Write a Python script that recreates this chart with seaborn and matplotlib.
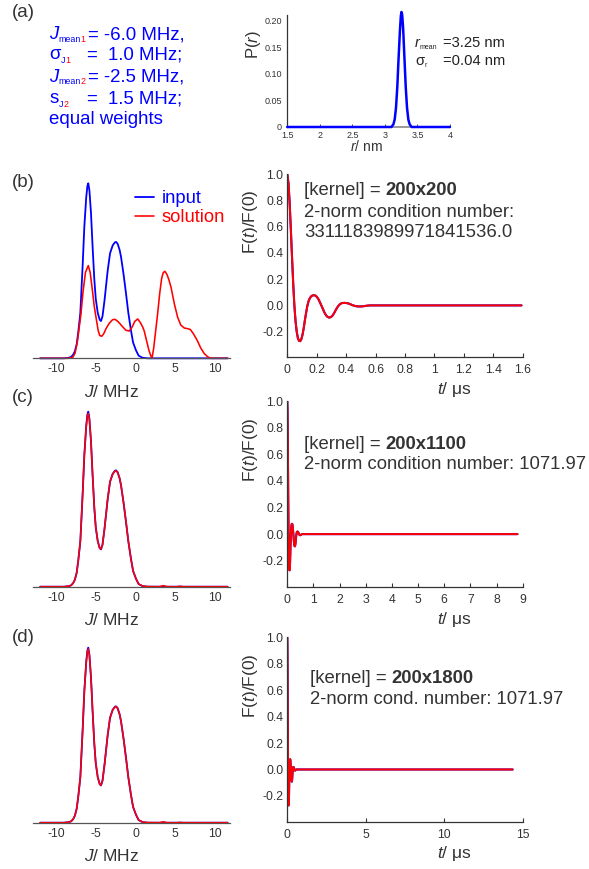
import matplotlib
matplotlib.use("Agg")
import matplotlib.pyplot as plt
import seaborn as sns
import pandas as pd
from matplotlib.ticker import FixedLocator, FuncFormatter

# ---------------- data ----------------
# (a) distance distribution P(r)
R_NM = [1.50, 3.10, 3.13, 3.15, 3.17, 3.19, 3.21, 3.23, 3.245, 3.255, 3.265,
        3.28, 3.30, 3.32, 3.34, 3.36, 3.38, 3.41, 4.00]
P_R = [0, 0, 0.005, 0.014, 0.036, 0.075, 0.13, 0.18, 0.21, 0.217, 0.212,
       0.186, 0.13, 0.075, 0.036, 0.014, 0.005, 0, 0]

# coupling distributions (normalised to the input maximum)
J_GRID = [-12.0, -9.0, -8.4, -8.1, -7.85, -7.63, -7.4, -7.2, -6.94, -6.64,
          -6.44, -6.2, -6.05, -5.94, -5.8, -5.6, -5.4, -5.18, -5.0, -4.75,
          -4.5, -4.34, -4.15, -3.9, -3.5, -3.2, -2.87, -2.6, -2.45, -2.25,
          -2.0, -1.82, -1.5, -1.19, -0.9, -0.57, -0.3, 0.06, 0.4, 0.9,
          1.5, 3.0, 3.5, 4.0, 5.2, 5.6, 6.0, 11.6]
INPUT_J = [0, 0, 0.003, 0.008, 0.02, 0.04, 0.08, 0.15, 0.26, 0.54,
           0.75, 0.92, 0.985, 1.0, 0.96, 0.83, 0.64, 0.45, 0.34, 0.26,
           0.22, 0.213, 0.24, 0.33, 0.50, 0.60, 0.645, 0.662, 0.665, 0.655,
           0.62, 0.58, 0.48, 0.37, 0.26, 0.16, 0.09, 0.046, 0.015, 0.003,
           0, 0, 0, 0, 0, 0, 0, 0]
SOLUTION_C = [0, 0, 0.003, 0.008, 0.02, 0.04, 0.08, 0.15, 0.26, 0.54,
              0.75, 0.915, 0.975, 0.99, 0.955, 0.83, 0.64, 0.45, 0.34, 0.26,
              0.22, 0.215, 0.24, 0.33, 0.50, 0.60, 0.643, 0.66, 0.662, 0.653,
              0.62, 0.58, 0.48, 0.37, 0.26, 0.16, 0.09, 0.046, 0.015, 0.004,
              0.001, 0.0, 0.006, 0.0, 0.0, 0.003, 0.0, 0.0]
SOLUTION_D = [0, 0, 0.003, 0.008, 0.02, 0.04, 0.08, 0.15, 0.26, 0.54,
              0.75, 0.915, 0.978, 0.993, 0.957, 0.83, 0.64, 0.45, 0.34, 0.26,
              0.22, 0.214, 0.24, 0.33, 0.50, 0.60, 0.644, 0.661, 0.663, 0.654,
              0.62, 0.58, 0.48, 0.37, 0.26, 0.16, 0.09, 0.046, 0.015, 0.004,
              0.001, 0.0, 0.005, 0.0, 0.0, 0.002, 0.0, 0.0]

J_SOL_B = [-12.0, -8.5, -7.9, -7.6, -7.3, -7.1, -6.86, -6.6, -6.3, -5.94,
           -5.7, -5.4, -5.2, -4.97, -4.7, -4.5, -4.25, -4.0, -3.7, -3.3,
           -2.9, -2.58, -2.2, -1.9, -1.61, -1.2, -0.78, -0.4, -0.1, 0.28,
           0.6, 0.9, 1.11, 1.4, 1.7, 1.9, 2.08, 2.3, 2.55, 2.79,
           3.05, 3.29, 3.5, 3.71, 3.95, 4.2, 4.47, 4.9, 5.3, 5.7,
           6.14, 6.5, 6.9, 7.3, 7.8, 8.2, 8.66, 9.1, 9.5, 11.6]
SOLUTION_B = [0, 0, 0.005, 0.03, 0.1, 0.17, 0.255, 0.38, 0.49, 0.53,
              0.49, 0.38, 0.3, 0.235, 0.16, 0.13, 0.126, 0.14, 0.17, 0.2,
              0.22, 0.223, 0.21, 0.195, 0.18, 0.16, 0.156, 0.18, 0.21, 0.225,
              0.205, 0.18, 0.155, 0.1, 0.045, 0.018, 0.0, 0.06, 0.16, 0.255,
              0.37, 0.455, 0.49, 0.497, 0.48, 0.45, 0.407, 0.31, 0.236, 0.19,
              0.173, 0.17, 0.165, 0.14, 0.1, 0.06, 0.027, 0.008, 0, 0]

# normalised time-domain signal F(t)/F(0)
DECAY_T = [0.000, 0.008, 0.016, 0.024, 0.032, 0.040, 0.048, 0.056, 0.064, 0.072,
           0.080, 0.088, 0.096, 0.104, 0.112, 0.120, 0.128, 0.136, 0.144, 0.152,
           0.160, 0.168, 0.176, 0.184, 0.192, 0.200, 0.208, 0.216, 0.224, 0.232,
           0.240, 0.248, 0.256, 0.264, 0.272, 0.280, 0.288, 0.296, 0.304, 0.312,
           0.320, 0.328, 0.336, 0.344, 0.352, 0.360, 0.368, 0.376, 0.384, 0.392,
           0.400, 0.408, 0.416, 0.424, 0.432, 0.440, 0.456, 0.472, 0.488, 0.504,
           0.520, 0.536, 0.552, 0.568]
DECAY_F = [1.0, 0.93, 0.78, 0.58, 0.37, 0.17, 0.0, -0.12, -0.20, -0.25,
           -0.27, -0.272, -0.255, -0.22, -0.17, -0.11, -0.055, -0.005, 0.03, 0.052,
           0.066, 0.074, 0.077, 0.077, 0.074, 0.066, 0.054, 0.038, 0.018, -0.002,
           -0.022, -0.043, -0.062, -0.076, -0.086, -0.091, -0.092, -0.089, -0.082, -0.07,
           -0.055, -0.038, -0.022, -0.008, 0.003, 0.011, 0.016, 0.018, 0.019, 0.019,
           0.018, 0.017, 0.014, 0.011, 0.007, 0.003, -0.003, -0.007, -0.008, -0.008,
           -0.006, -0.003, -0.001, 0.0]
T_END = {"b": 1.592, "c": 8.8, "d": 14.36}
KERNELS = {"b": "200x200", "c": "200x1100", "d": "200x1800"}
COND_LINES = {"b": ["2-norm condition number:", "3311183989971841536.0"],
              "c": ["2-norm condition number: 1071.97"],
              "d": ["2-norm cond. number: 1071.97"]}

# ---------------- style ----------------
sns.set_style("white")
plt.rcParams["font.family"] = ["Liberation Sans", "DejaVu Sans"]
plt.rcParams["axes.unicode_minus"] = False
plt.rcParams["mathtext.fontset"] = "custom"
plt.rcParams["mathtext.rm"] = "Liberation Sans"
plt.rcParams["mathtext.it"] = "Liberation Sans:italic"
plt.rcParams["mathtext.bf"] = "Liberation Sans:bold"

INK = "#333333"
BLUE = "#0000ff"
RED = "#ff0000"
W, H = 589, 869
fig = plt.figure(figsize=(W / 100, H / 100), dpi=100)
renderer = fig.canvas.get_renderer()


def px_axes(left, top, right, bottom):
    return fig.add_axes([left / W, 1 - bottom / H, (right - left) / W, (bottom - top) / H])


def put_runs(x, y_base, pieces):
    for text, opts in pieces:
        opts = dict(opts)
        dy = opts.pop("dy", 0)
        if "x" in opts:
            x = opts.pop("x")
        t = fig.text(x / W, 1 - (y_base + dy) / H, text, va="baseline", ha="left", **opts)
        x += t.get_window_extent(renderer).width


def gformat(v, _):
    return f"{v:g}"


# ---------------- (a) ----------------
fig.text(23 / W, 1 - 12.5 / H, "(a)", fontsize=13.5, color=INK, ha="center", va="center")

main = dict(color=BLUE, fontsize=13.4)
sub_b = dict(color=BLUE, fontsize=6.4)
sub_r = dict(color=RED, fontsize=6.4)
put_runs(49.3, 39.0, [("J", dict(main, style="italic")), ("mean", dict(sub_b, dy=2.5)),
                      ("1", dict(sub_r, dy=2.5, x=80.5)), ("= -6.0 MHz,", dict(main, x=88))])
put_runs(49.3, 59.3, [("σ", main), ("J", dict(sub_b, dy=4)), ("1", dict(sub_r, dy=4)),
                      ("=  1.0 MHz;", dict(main, x=86.7))])
put_runs(49.3, 81.7, [("J", dict(main, style="italic")), ("mean", dict(sub_b, dy=2.5)),
                      ("2", dict(sub_r, dy=2.5, x=80.5)), ("= -2.5 MHz,", dict(main, x=88))])
put_runs(49.3, 103.3, [("s", main), ("J", dict(sub_b, dy=4)), ("2", dict(sub_r, dy=4)),
                       ("=  1.5 MHz;", dict(main, x=86.7))])
put_runs(49.3, 123.5, [("equal weights", main)])

ax_a = px_axes(287.3, 15, 450, 127)
sns.lineplot(x=R_NM, y=P_R, ax=ax_a, color=BLUE, linewidth=1.8, clip_on=False, zorder=3)
ax_a.set_xlim(1.5, 4.0)
ax_a.set_ylim(0, 0.2113)
ax_a.xaxis.set_major_locator(FixedLocator([1.5, 2, 2.5, 3, 3.5, 4]))
ax_a.xaxis.set_major_formatter(FuncFormatter(gformat))
ax_a.yaxis.set_major_locator(FixedLocator([0, 0.05, 0.10, 0.15, 0.20]))
ax_a.yaxis.set_major_formatter(FuncFormatter(lambda v, _: "0" if v == 0 else f"{v:.2f}"))
ax_a.tick_params(axis="x", direction="in", length=2, width=0.6, pad=3, labelsize=6.5,
                 colors=INK, bottom=True)
ax_a.tick_params(axis="y", length=0, pad=4, labelsize=6.5, colors=INK)
for s in ("top", "right"):
    ax_a.spines[s].set_visible(False)
ax_a.spines["left"].set_color(INK)
ax_a.spines["bottom"].set_color("#888888")
ax_a.spines["left"].set_linewidth(0.9)
ax_a.spines["bottom"].set_linewidth(1.2)
ax_a.set_ylabel("P($\\it{r}$)", fontsize=12, color=INK)
ax_a.yaxis.label.set_va("center")
ax_a.yaxis.set_label_coords(-0.209, 0.732)
ax_a.set_xlabel("$\\it{r}$/ nm", fontsize=10, color=INK)
ax_a.xaxis.label.set_va("center")
ax_a.xaxis.set_label_coords(0.484, -0.17)

small = dict(color="#222222", fontsize=10.6)
put_runs(415, 47.3, [("r", dict(small, style="italic")), ("mean", dict(small, fontsize=5, dy=2)),
                     ("=3.25 nm", dict(small, x=443.3))])
put_runs(415, 65.0, [("σ", small), ("r", dict(small, fontsize=5, dy=2)),
                     ("=0.04 nm", dict(small, x=443.3))])

# ---------------- (b)-(d) ----------------
rows = {"b": 358.3, "c": 586.7, "d": 822.7}
right_rows = {"b": (174.0, 357.3), "c": (401.0, 586.7), "d": (637.3, 821.7)}
label_y = {"b": 182.5, "c": 398.0, "d": 637.0}
xticks_right = {"b": [0, 0.2, 0.4, 0.6, 0.8, 1.0, 1.2, 1.4, 1.6],
                "c": list(range(0, 10)),
                "d": [0, 5, 10, 15]}
xmax_right = {"b": 1.6, "c": 9.0, "d": 15.0}
text_pos = {"b": (304, [195.0, 216.7, 237.3]),
            "c": (304, [448.7, 469.3]),
            "d": (310, [683.3, 704.3])}
solutions = {"b": (J_SOL_B, SOLUTION_B), "c": (J_GRID, SOLUTION_C), "d": (J_GRID, SOLUTION_D)}

for key in ("b", "c", "d"):
    fig.text(23 / W, 1 - label_y[key] / H, f"({key})", fontsize=13.5, color=INK,
             ha="center", va="center")

    # coupling distribution
    base = rows[key]
    ax_l = px_axes(33, base - 175, 230, base)
    sns.lineplot(x=J_GRID, y=INPUT_J, ax=ax_l, color=BLUE, linewidth=1.3,
                 label="input", clip_on=False)
    js, vals = solutions[key]
    sns.lineplot(x=js, y=vals, ax=ax_l, color=RED, linewidth=1.15,
                 label="solution", clip_on=False)
    ax_l.set_xlim(-12.9, 11.9)
    ax_l.set_ylim(0, 1.0)
    for s in ("top", "right", "left"):
        ax_l.spines[s].set_visible(False)
    ax_l.spines["bottom"].set_color("#555555")
    ax_l.spines["bottom"].set_linewidth(0.9)
    ax_l.set_yticks([])
    ax_l.xaxis.set_major_locator(FixedLocator([-10, -5, 0, 5, 10]))
    ax_l.xaxis.set_major_formatter(FuncFormatter(gformat))
    ax_l.tick_params(axis="x", length=0, pad=3.5, labelsize=8.8, colors=INK)
    ax_l.set_xlabel("$\\it{J}$/ MHz", fontsize=12.5, color=INK)
    ax_l.xaxis.label.set_va("center")
    ax_l.xaxis.set_label_coords(0.401, -0.192)
    if key == "b":
        ax_l.legend(loc="upper left", bbox_to_anchor=(126 / W, 1 - 181 / H),
                    bbox_transform=fig.transFigure, frameon=False, fontsize=13.2,
                    handlelength=1.0, handletextpad=0.45, labelspacing=0.1,
                    borderpad=0, labelcolor="linecolor")
    else:
        ax_l.get_legend().remove()

    # time-domain signal
    top, bottom = right_rows[key]
    ax_r = px_axes(287.3, top, 522.7, bottom)
    t_vals = DECAY_T + [T_END[key]]
    f_vals = DECAY_F + [0.0]
    sns.lineplot(x=t_vals, y=f_vals, ax=ax_r, color=BLUE, linewidth=1.5)
    sns.lineplot(x=t_vals, y=f_vals, ax=ax_r, color=RED, linewidth=1.45)
    ax_r.set_xlim(0, xmax_right[key])
    ax_r.set_ylim(-0.395, 1.0)
    for s in ("top", "right"):
        ax_r.spines[s].set_visible(False)
    for s in ("left", "bottom"):
        ax_r.spines[s].set_color(INK)
        ax_r.spines[s].set_linewidth(0.9)
    ax_r.xaxis.set_major_locator(FixedLocator(xticks_right[key]))
    ax_r.xaxis.set_major_formatter(FuncFormatter(gformat))
    ax_r.yaxis.set_major_locator(FixedLocator([-0.2, 0.0, 0.2, 0.4, 0.6, 0.8, 1.0]))
    ax_r.yaxis.set_major_formatter(FuncFormatter(lambda v, _: f"{v:.1f}"))
    ax_r.tick_params(axis="x", direction="in", length=3, width=0.8, pad=5,
                     labelsize=8.8, colors=INK, bottom=True)
    ax_r.tick_params(axis="y", length=0, pad=3, labelsize=8.8, colors=INK)
    ax_r.set_xlabel("$\\it{t}$/ μs", fontsize=12.5, color=INK)
    ax_r.xaxis.label.set_va("center")
    ax_r.xaxis.set_label_coords(0.708, -0.175)
    ax_r.set_ylabel("F($\\it{t}$)/F(0)", fontsize=12.5, color=INK)
    ax_r.yaxis.label.set_va("center")
    ax_r.yaxis.set_label_coords(-0.158, 0.74)

    tx, ys = text_pos[key]
    put_runs(tx, ys[0], [("[kernel] = ", dict(color=INK, fontsize=13.3)),
                         (KERNELS[key], dict(color=INK, fontsize=13.3, weight="bold"))])
    for line, yb in zip(COND_LINES[key], ys[1:]):
        put_runs(tx, yb, [(line, dict(color=INK, fontsize=13.3))])

fig.savefig("out.png", dpi=100)
